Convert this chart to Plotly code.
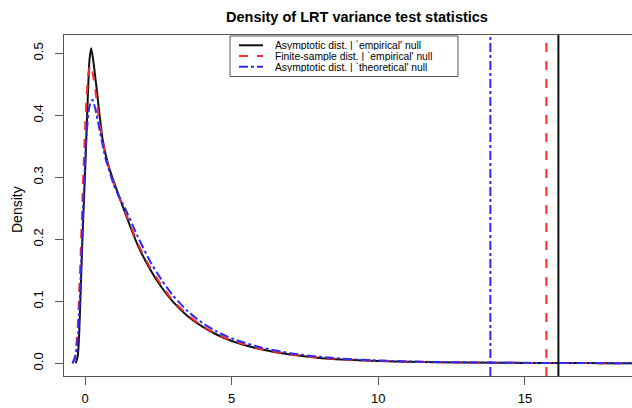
import plotly.graph_objects as go

# ---- data ----
x_asym_emp = [-0.32, -0.25, -0.2, -0.1, 0.0, 0.1, 0.15, 0.21, 0.3, 0.4, 0.6, 0.8, 1.0, 1.4, 1.8, 2.2, 2.6, 3.0, 3.5, 4.0, 4.5, 5.0, 6.0, 7.0, 8.0, 9.0, 10.0, 11.0, 12.0, 14.0, 16.0, 18.0, 19.5]
y_asym_emp = [0.0, 0.012, 0.05, 0.19, 0.31, 0.44, 0.49, 0.508, 0.48, 0.44, 0.36, 0.318, 0.29, 0.238, 0.19, 0.153, 0.123, 0.099, 0.076, 0.059, 0.046, 0.036, 0.0225, 0.014, 0.0087, 0.0056, 0.0037, 0.0025, 0.0018, 0.0009, 0.0004, 0.0002, 0.0001]

x_fin_emp = [-0.43, -0.35, -0.25, -0.15, -0.05, 0.05, 0.12, 0.18, 0.25, 0.35, 0.5, 0.7, 1.0, 1.4, 1.8, 2.2, 2.6, 3.0, 3.5, 4.0, 4.5, 5.0, 6.0, 7.0, 8.0, 9.0, 10.0, 11.0, 12.0, 14.0, 16.0, 18.0, 19.5]
y_fin_emp = [0.0, 0.01, 0.06, 0.18, 0.32, 0.43, 0.47, 0.481, 0.47, 0.44, 0.385, 0.335, 0.287, 0.24, 0.193, 0.156, 0.126, 0.101, 0.078, 0.06, 0.047, 0.037, 0.023, 0.0145, 0.009, 0.006, 0.004, 0.0027, 0.0018, 0.0009, 0.0004, 0.0002, 0.0001]

x_asym_theo = [-0.43, -0.35, -0.25, -0.15, -0.05, 0.05, 0.15, 0.25, 0.35, 0.5, 0.7, 1.0, 1.4, 1.8, 2.2, 2.6, 3.0, 3.5, 4.0, 4.5, 5.0, 6.0, 7.0, 8.0, 9.0, 10.0, 11.0, 12.0, 14.0, 16.0, 18.0, 19.5]
y_asym_theo = [0.0, 0.008, 0.04, 0.14, 0.27, 0.37, 0.415, 0.425, 0.41, 0.375, 0.33, 0.285, 0.246, 0.204, 0.166, 0.135, 0.109, 0.084, 0.065, 0.051, 0.04, 0.0255, 0.0163, 0.0104, 0.0068, 0.0045, 0.003, 0.002, 0.001, 0.0005, 0.0002, 0.0001]

critical_values = [16.14, 15.73, 13.82]   # black, red, blue

series_names = ["Asymptotic dist. | `empirical' null",
                "Finite-sample dist. | `empirical' null",
                "Asymptotic dist. | `theoretical' null"]
x_ticks = [0, 5, 10, 15]
y_ticks = [0.0, 0.1, 0.2, 0.3, 0.4, 0.5]
y_tick_labels = ["0.0", "0.1", "0.2", "0.3", "0.4", "0.5"]

# ---- styles ----
colors = ["#111111", "#ff2a2a", "#2a2aff"]
dashes = ["solid", "dash", "dashdot"]
FONT = "Liberation Sans, Arial, Helvetica, sans-serif"
AXC = "#555555"

W, H = 632, 408
L, R, T, B = 64, 0, 35, 32
pw, ph = W - L - R, H - T - B

def px2x(px):
    return (px - L) / pw

def py2y(py):
    return (H - B - py) / ph

fig = go.Figure()
xs = [x_asym_emp, x_fin_emp, x_asym_theo]
ys = [y_asym_emp, y_fin_emp, y_asym_theo]
for i in range(3):
    fig.add_trace(go.Scatter(x=xs[i], y=ys[i], mode="lines", name=series_names[i],
                             line=dict(color=colors[i], width=2, dash=dashes[i], shape="spline", smoothing=0.6),
                             showlegend=False))

fig.update_layout(
    width=W, height=H,
    margin=dict(l=L, r=R, t=T, b=B),
    paper_bgcolor="white", plot_bgcolor="white",
    title=dict(text="<b>Density of LRT variance test statistics</b>", x=357 / W, xref="container",
               xanchor="center", y=1 - 17 / H, yref="container", yanchor="middle",
               font=dict(family=FONT, size=14.5, color="black")),
    xaxis=dict(range=[-0.72, 18.65], tickvals=x_ticks, ticktext=[str(v) for v in x_ticks],
               showgrid=False, zeroline=False, showline=True, mirror=True, linecolor=AXC, linewidth=1,
               ticks="outside", ticklen=8, tickcolor=AXC, tickwidth=1,
               tickfont=dict(family=FONT, size=13, color="black"), ticklabelstandoff=2),
    yaxis=dict(range=[-0.0205, 0.5295], tickvals=y_ticks, ticktext=y_tick_labels,
               showgrid=False, zeroline=False, showline=True, linecolor=AXC, linewidth=1,
               ticks="outside", ticklen=8, tickcolor=AXC, tickwidth=1, tickangle=-90,
               tickfont=dict(family=FONT, size=13, color="black"), ticklabelstandoff=7),
)

for i in range(3):
    fig.add_vline(x=critical_values[i], line=dict(color=colors[i], width=2, dash=dashes[i]))

# R-style legend box
fig.add_shape(type="rect", xref="paper", yref="paper",
              x0=px2x(230), x1=px2x(458), y0=py2y(76.5), y1=py2y(36),
              line=dict(color=AXC, width=1), fillcolor="white", layer="above")
row_y = [45.3, 56.0, 66.7]
for i in range(3):
    fig.add_shape(type="line", xref="paper", yref="paper",
                  x0=px2x(239), x1=px2x(263), y0=py2y(row_y[i]), y1=py2y(row_y[i]),
                  line=dict(color=colors[i], width=2, dash=dashes[i]), layer="above")
    fig.add_annotation(xref="paper", yref="paper", x=px2x(274), y=py2y(row_y[i]),
                       text=series_names[i], showarrow=False, xanchor="left", yanchor="middle",
                       borderpad=0, height=10, font=dict(family=FONT, size=10.3, color="black"))
fig.add_annotation(xref="paper", yref="paper", x=px2x(17), y=py2y(210), text="Density",
                   textangle=-90, showarrow=False, xanchor="center", yanchor="middle",
                   font=dict(family=FONT, size=14, color="black"))

fig.write_html("out.html", config={"displayModeBar": False},
               post_script="document.body.style.margin='0';")
